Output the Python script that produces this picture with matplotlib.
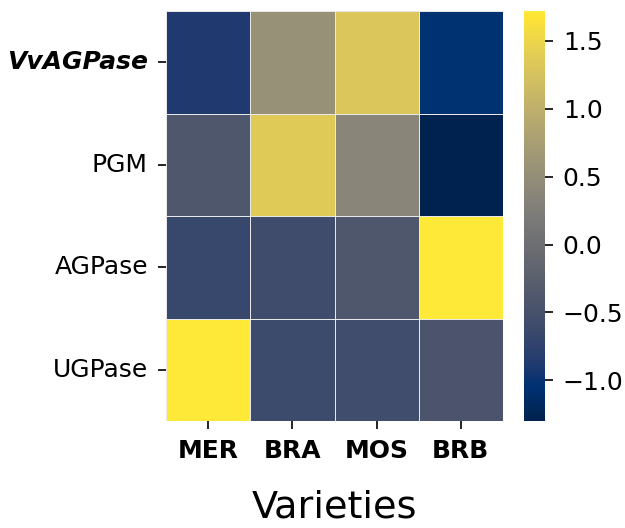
import numpy as np
import pandas as pd
import matplotlib
matplotlib.use('Agg')
import matplotlib.pyplot as plt
import seaborn as sns

# genes (rows) and varieties (columns), row-wise z-scores of expression
genes = ['VvAGPase', 'PGM', 'AGPase', 'UGPase']
varieties = ['MER', 'BRA', 'MOS', 'BRB']
vvagpase = [-0.88, 0.55, 1.30, -1.05]
pgm = [-0.40, 1.36, 0.37, -1.30]
agpase = [-0.67, -0.58, -0.40, 1.72]
ugpase = [1.72, -0.62, -0.56, -0.45]

df = pd.DataFrame([vvagpase, pgm, agpase, ugpase], index=genes, columns=varieties)

fig = plt.figure(figsize=(6.25, 5.28), dpi=100)
ax = fig.add_axes([0.2656, 0.2027, 0.5392, 0.7763])
cax = fig.add_axes([0.838, 0.2027, 0.0336, 0.7763])

sns.heatmap(df, cmap='cividis', linewidths=0.5, linecolor='#e8e8e8',
            ax=ax, cbar_ax=cax)

ax.tick_params(axis='both', labelsize=18, length=6, width=1.2, pad=7)
ax.set_xticklabels(varieties, fontweight='bold', rotation=0)
ax.set_yticklabels(genes, rotation=0)
ax.get_yticklabels()[0].set_fontweight('bold')
ax.get_yticklabels()[0].set_fontstyle('italic')
ax.set_xlabel('Varieties', fontsize=27.5, labelpad=19)
ax.set_ylabel('')

cax.tick_params(labelsize=18, length=6, width=1.2, pad=7)

fig.savefig('out.png', dpi=100)
